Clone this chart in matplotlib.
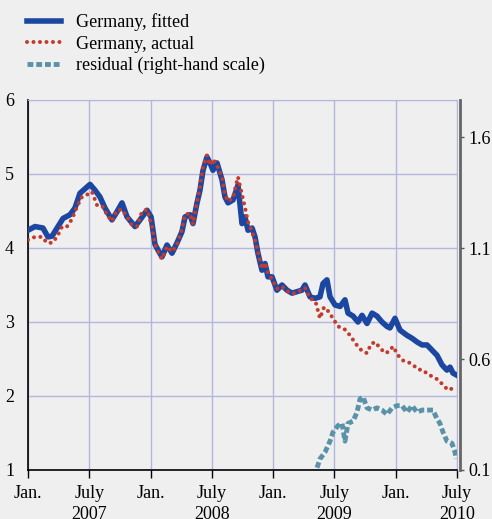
import matplotlib
matplotlib.use('Agg')
import matplotlib.pyplot as plt

# decimal years
fit_t = [2007.000, 2007.057, 2007.122, 2007.163, 2007.196, 2007.245, 2007.286, 2007.343,
         2007.383, 2007.424, 2007.465, 2007.506, 2007.547, 2007.587, 2007.628, 2007.685,
         2007.726, 2007.767, 2007.808, 2007.873, 2007.914, 2007.971, 2008.004, 2008.036,
         2008.061, 2008.093, 2008.134, 2008.175, 2008.216, 2008.256, 2008.281, 2008.322,
         2008.346, 2008.379, 2008.403, 2008.428, 2008.460, 2008.485, 2008.509, 2008.542,
         2008.583, 2008.607, 2008.632, 2008.673, 2008.713, 2008.746, 2008.770, 2008.795,
         2008.828, 2008.852, 2008.876, 2008.909, 2008.934, 2008.958, 2008.991, 2009.031,
         2009.072, 2009.113, 2009.154, 2009.195, 2009.235, 2009.260, 2009.301, 2009.342,
         2009.382, 2009.407, 2009.439, 2009.464, 2009.505, 2009.546, 2009.586, 2009.611,
         2009.652, 2009.692, 2009.725, 2009.766, 2009.807, 2009.847, 2009.888, 2009.929,
         2009.953, 2009.994, 2010.035, 2010.092, 2010.133, 2010.174, 2010.215, 2010.255,
         2010.296, 2010.337, 2010.378, 2010.418, 2010.443, 2010.467, 2010.500]
fit_v = [4.24, 4.29, 4.27, 4.15, 4.16, 4.29, 4.40, 4.45,
         4.54, 4.74, 4.80, 4.86, 4.78, 4.69, 4.54, 4.38,
         4.49, 4.61, 4.42, 4.29, 4.38, 4.51, 4.42, 4.05,
         3.97, 3.88, 4.04, 3.93, 4.07, 4.22, 4.42, 4.45,
         4.33, 4.61, 4.78, 5.05, 5.23, 5.15, 5.05, 5.15,
         4.92, 4.69, 4.61, 4.65, 4.85, 4.33, 4.42, 4.24,
         4.27, 4.15, 3.93, 3.70, 3.79, 3.61, 3.61, 3.43,
         3.50, 3.43, 3.39, 3.41, 3.43, 3.50, 3.34, 3.32,
         3.34, 3.52, 3.57, 3.34, 3.23, 3.21, 3.30, 3.12,
         3.08, 3.00, 3.09, 2.98, 3.12, 3.08, 3.00, 2.94,
         2.92, 3.05, 2.89, 2.82, 2.78, 2.73, 2.69, 2.69,
         2.62, 2.55, 2.42, 2.35, 2.39, 2.31, 2.28]

act_t = [2007.000, 2007.057, 2007.114, 2007.155, 2007.196, 2007.237, 2007.278, 2007.318,
         2007.359, 2007.400, 2007.440, 2007.481, 2007.522, 2007.563, 2007.604, 2007.645,
         2007.685, 2007.726, 2007.767, 2007.808, 2007.849, 2007.889, 2007.930, 2007.971,
         2008.012, 2008.036, 2008.061, 2008.093, 2008.134, 2008.175, 2008.216, 2008.256,
         2008.281, 2008.322, 2008.346, 2008.379, 2008.403, 2008.428, 2008.460, 2008.485,
         2008.509, 2008.542, 2008.583, 2008.607, 2008.632, 2008.673, 2008.713, 2008.746,
         2008.770, 2008.795, 2008.828, 2008.852, 2008.876, 2008.909, 2008.934, 2008.958,
         2008.991, 2009.031, 2009.072, 2009.113, 2009.154, 2009.195, 2009.235, 2009.260,
         2009.301, 2009.342, 2009.350, 2009.382, 2009.415, 2009.447, 2009.488, 2009.529,
         2009.562, 2009.594, 2009.635, 2009.668, 2009.700, 2009.733, 2009.766, 2009.798,
         2009.831, 2009.872, 2009.913, 2009.945, 2009.978, 2010.019, 2010.059, 2010.100,
         2010.141, 2010.182, 2010.223, 2010.264, 2010.304, 2010.345, 2010.386, 2010.427,
         2010.459, 2010.492]
act_v = [4.11, 4.15, 4.15, 4.07, 4.07, 4.15, 4.29, 4.29,
         4.39, 4.56, 4.69, 4.72, 4.76, 4.58, 4.57, 4.45,
         4.36, 4.51, 4.52, 4.42, 4.31, 4.29, 4.49, 4.52,
         4.29, 4.05, 3.95, 3.85, 4.02, 3.95, 4.05, 4.25,
         4.45, 4.47, 4.32, 4.63, 4.82, 5.10, 5.25, 5.12,
         5.20, 5.12, 4.95, 4.72, 4.63, 4.68, 4.96, 4.72,
         4.55, 4.35, 4.22, 4.10, 3.95, 3.72, 3.80, 3.66,
         3.58, 3.45, 3.48, 3.42, 3.38, 3.40, 3.44, 3.46,
         3.32, 3.28, 3.25, 3.05, 3.20, 3.15, 3.05, 2.94,
         2.92, 2.89, 2.80, 2.72, 2.65, 2.60, 2.58, 2.70,
         2.73, 2.65, 2.58, 2.60, 2.67, 2.55, 2.48, 2.46,
         2.42, 2.36, 2.35, 2.29, 2.26, 2.22, 2.15, 2.08,
         2.10, 2.13]

res_t = [2009.358, 2009.382, 2009.423, 2009.464, 2009.488, 2009.529, 2009.562, 2009.586,
         2009.611, 2009.652, 2009.684, 2009.709, 2009.733, 2009.766, 2009.807, 2009.847,
         2009.888, 2009.929, 2009.970, 2010.011, 2010.051, 2010.092, 2010.133, 2010.174,
         2010.215, 2010.255, 2010.304, 2010.337, 2010.361, 2010.386, 2010.418, 2010.459,
         2010.484, 2010.492]
res_v = [0.11, 0.15, 0.18, 0.23, 0.27, 0.30, 0.31, 0.23,
         0.31, 0.32, 0.36, 0.42, 0.43, 0.38, 0.37, 0.38,
         0.37, 0.35, 0.38, 0.39, 0.39, 0.36, 0.39, 0.36,
         0.37, 0.37, 0.37, 0.33, 0.31, 0.27, 0.23, 0.22,
         0.18, 0.15]

tick_pos = [2007.0, 2007.5, 2008.0, 2008.5, 2009.0, 2009.5, 2010.0, 2010.5]
tick_lab = ['Jan.', 'July\n2007', 'Jan.', 'July\n2008', 'Jan.', 'July\n2009', 'Jan.', 'July\n2010']

bg = '#efefef'
grid_c = '#b3b7dc'
blue = '#1c47a1'
red = '#c23b2c'
teal = '#5a93a7'

plt.rcParams['font.family'] = ['Liberation Serif', 'DejaVu Serif']
plt.rcParams['font.size'] = 13

fig = plt.figure(figsize=(4.92, 5.19), dpi=100, facecolor=bg)
ax = fig.add_axes([28 / 492, 1 - 470 / 519, 429 / 492, 370 / 519])
ax.set_facecolor(bg)
ax2 = ax.twinx()

l1, = ax.plot(fit_t, fit_v, color=blue, lw=4, solid_joinstyle='round', zorder=3)
l2, = ax.plot(act_t, act_v, color=red, lw=2.9, linestyle=(0, (0.01, 1.6)),
              dash_capstyle='round', zorder=4)
l3, = ax2.plot(res_t, res_v, color=teal, lw=3.5, linestyle=(0, (1.2, 0.6)))

ax.set_xlim(2007.0, 2010.5)
ax.set_ylim(1, 6)
ax2.set_ylim(0.1, 0.1 + 370 / 222)

ax.set_yticks([1, 2, 3, 4, 5, 6])
ax.set_xticks(tick_pos)
ax.set_xticklabels(tick_lab, linespacing=1.3)
ax.grid(True, color=grid_c, lw=1)
ax.set_axisbelow(True)
ax.tick_params(axis='x', direction='out', length=6, width=1, pad=5)
ax.tick_params(axis='y', length=0, pad=10)

ax2.set_yticks([0.1, 0.6, 1.1, 1.6])
ax2.set_yticklabels(['0.1', '0.6', '1.1', '1.6'])
ax2.tick_params(axis='y', direction='out', length=3, width=1, pad=3, color='#555555')

ax.spines['top'].set_color(grid_c)
ax2.spines['top'].set_visible(False)
ax.spines['right'].set_color(grid_c)
ax.spines['left'].set_linewidth(1.2)
ax.spines['bottom'].set_linewidth(1.2)
ax2.spines['left'].set_visible(False)
ax2.spines['bottom'].set_visible(False)
ax2.spines['right'].set_color('#666666')
ax2.spines['right'].set_linewidth(2)
ax2.spines['right'].set_position(('outward', 2))

fig.legend([l1, l2, l3], ['Germany, fitted', 'Germany, actual', 'residual (right-hand scale)'],
           loc='upper left', bbox_to_anchor=(20 / 492, 1 - 6 / 519), frameon=False,
           handlelength=1.85, labelspacing=0.25, handletextpad=0.85, borderaxespad=0)

fig.savefig('out.png', dpi=100, facecolor=bg)
